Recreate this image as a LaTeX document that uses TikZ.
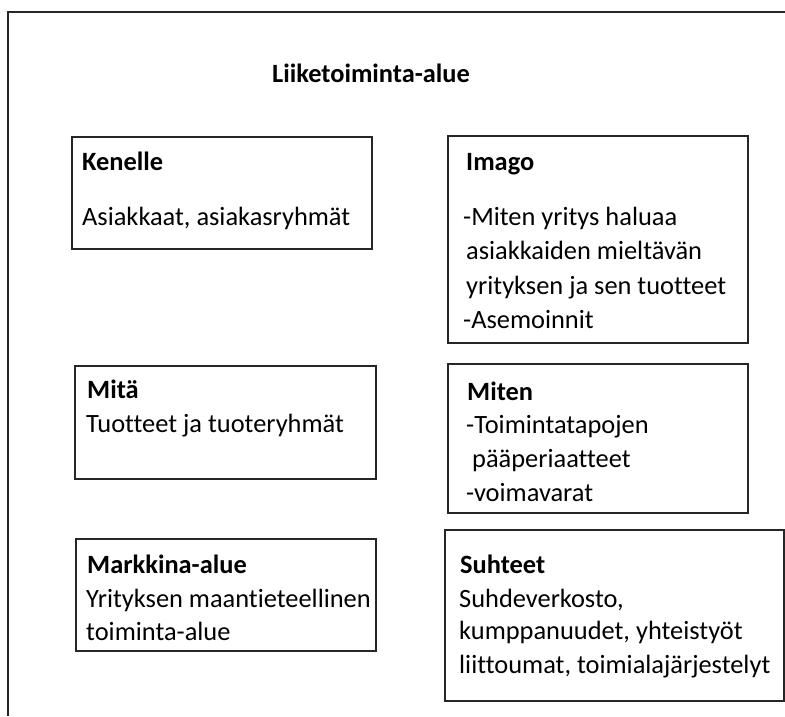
\documentclass[tikz,border=0pt]{standalone}
\usepackage{fontspec}
\setmainfont{Carlito}[Ligatures={NoCommon}]
\begin{document}
\begin{tikzpicture}[x=1pt,y=-1pt,
  frame/.style={line width=2pt,draw=black!85},
  box/.style={draw=black!85,line width=2pt,rectangle,inner sep=0pt,anchor=north west},
  head/.style={anchor=base west,inner sep=0pt,font=\fontsize{26.4}{30}\selectfont\bfseries},
  body/.style={anchor=base west,inner sep=0pt,font=\fontsize{26.4}{30}\selectfont},
  title/.style={anchor=base west,inner sep=0pt,font=\fontsize{26.4}{30}\selectfont\bfseries}]
\useasboundingbox (0,0) rectangle (785,716);
% outer frame: top edge and left edge
\coordinate (ftop) at (785,12);
\coordinate (fcorner) at (8,12);
\coordinate (fbottom) at (8,716);
\draw[frame] (ftop) -- (fcorner) -- (fbottom);
\node[title] (title) at (272,82) {Liiketoiminta-alue};
% boxes
\node[box,minimum width=300pt,minimum height=112pt] (kenelle) at (71,136) {};
\node[box,minimum width=300pt,minimum height=207pt] (imago) at (447,135) {};
\node[box,minimum width=301pt,minimum height=113pt] (mita) at (74,365) {};
\node[box,minimum width=300pt,minimum height=149pt] (miten) at (447,363) {};
\node[box,minimum width=300pt,minimum height=112pt] (markkina) at (75,538) {};
\node[box,minimum width=339pt,minimum height=171pt] (suhteet) at (444,529) {};
% Kenelle
\node[head] (kh) at (82,170) {Kenelle};
\node[body] (kb) at (82,225) {Asiakkaat, asiakasryhmät};
% Imago
\node[head] (ih) at (466,170) {Imago};
\node[body] (ib1) at (463,225) {-Miten yritys haluaa};
\node[body] (ib2) at (466,259) {asiakkaiden mieltävän};
\node[body] (ib3) at (466,294) {yrityksen ja sen tuotteet};
\node[body] (ib4) at (463,328) {-Asemoinnit};
% Mitä
\node[head] (mh) at (87,398) {Mitä};
\node[body] (mb) at (86,432) {Tuotteet ja tuoteryhmät};
% Miten
\node[head] (th) at (467,400) {Miten};
\node[body] (tb1) at (466,433) {-Toimintatapojen};
\node[body] (tb2) at (472,467) {pääperiaatteet};
\node[body] (tb3) at (466,501) {-voimavarat};
% Markkina-alue
\node[head] (ah) at (87,573) {Markkina-alue};
\node[body] (ab1) at (86,607) {Yrityksen maantieteellinen};
\node[body] (ab2) at (86,640) {toiminta-alue};
% Suhteet
\node[head] (sh) at (460,573) {Suhteet};
\node[body] (sb1) at (459,607) {Suhdeverkosto,};
\node[body] (sb2) at (459,639) {kumppanuudet, yhteistyöt};
\node[body] (sb3) at (459,673) {liittoumat, toimialajärjestelyt};
\end{tikzpicture}
\end{document}
